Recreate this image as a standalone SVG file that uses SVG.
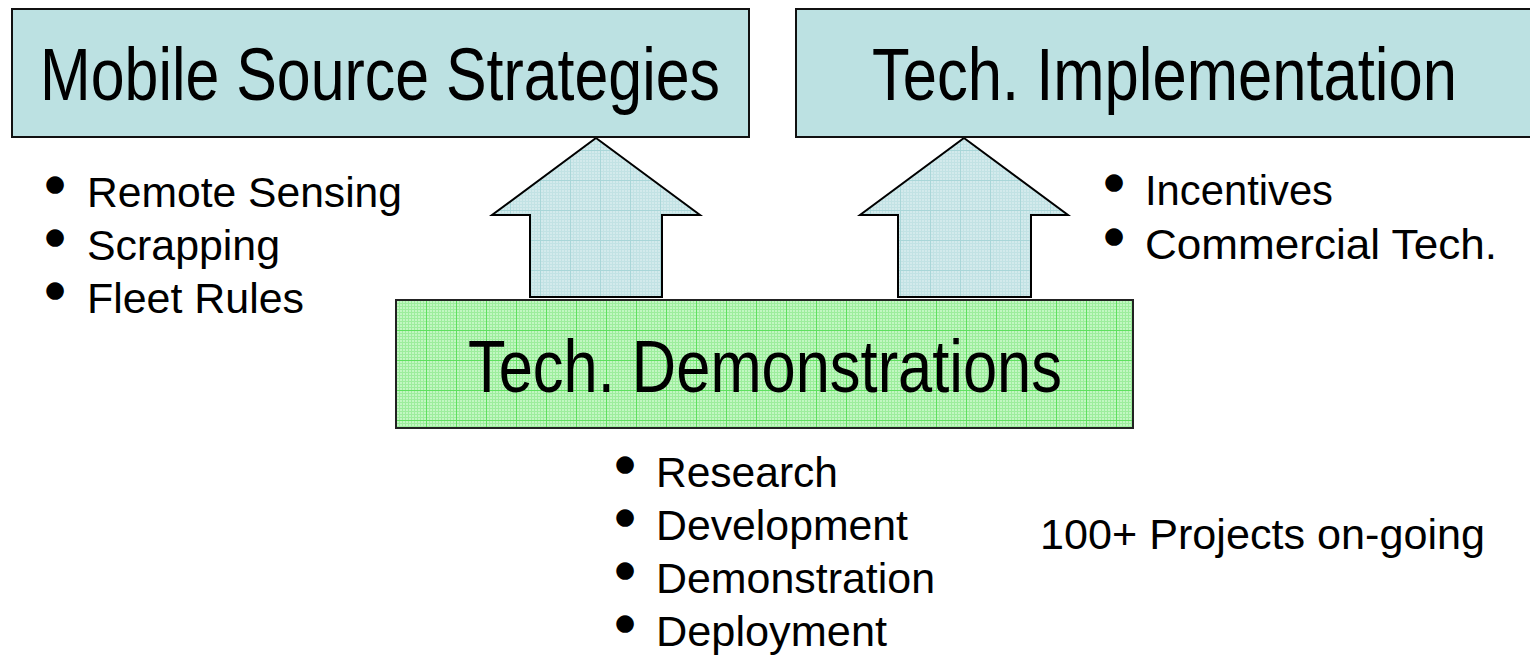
<svg xmlns="http://www.w3.org/2000/svg" width="1530" height="658" viewBox="0 0 1530 658">
<style>
.box{fill:#bce1e2;stroke:#111;stroke-width:2}
.demo{fill:url(#greenGrid);stroke:#222;stroke-width:2}
.arrow{fill:url(#blueGrid);stroke:#000;stroke-width:2;stroke-linejoin:miter}
.title{font-family:"Liberation Sans",Arial,sans-serif;font-size:74px;fill:#000}
.item{font-family:"Liberation Sans",Arial,sans-serif;font-size:42px;fill:#000}
.bul{font-family:"DejaVu Sans",sans-serif;font-size:23px;fill:#000;text-anchor:middle}
</style>
<defs>
<pattern id="greenFine" width="3" height="3" patternUnits="userSpaceOnUse">
<rect width="3" height="3" fill="#c2f7c2"/>
<path d="M0 0.5H3M0.5 0V3" stroke="#9ded9d" stroke-width="1"/>
</pattern>
<pattern id="greenGrid" width="30" height="30" patternUnits="userSpaceOnUse" x="396" y="300">
<rect width="30" height="30" fill="url(#greenFine)"/>
<path d="M0 0.5H30M0.5 0V30" stroke="#5fe05f" stroke-width="1"/>
</pattern>
<pattern id="blueFine" width="3" height="3" patternUnits="userSpaceOnUse">
<rect width="3" height="3" fill="#d3eaec"/>
<path d="M0 0.5H3M0.5 0V3" stroke="#c2e2e4" stroke-width="1"/>
</pattern>
<pattern id="blueGrid" width="30" height="30" patternUnits="userSpaceOnUse" x="0" y="0">
<rect width="30" height="30" fill="url(#blueFine)"/>
<path d="M0 0.5H30M0.5 0V30" stroke="#a9d6d8" stroke-width="1"/>
</pattern>
</defs>

<g id="connectors">
<path class="arrow" d="M596 138 L700 215 L662 215 L662 297 L530 297 L530 215 L492 215 Z"/>
<path class="arrow" d="M964 138 L1068 215 L1031 215 L1031 297 L898 297 L898 215 L860 215 Z"/>
</g>

<g id="mobile-source-strategies">
<rect class="box" x="12" y="9" width="737" height="128"/>
<text class="title" x="40" y="100" textLength="680" lengthAdjust="spacingAndGlyphs">Mobile Source Strategies</text>
</g>

<g id="tech-implementation">
<rect class="box" x="796" y="9" width="735" height="128"/>
<text class="title" x="872" y="100" textLength="585" lengthAdjust="spacingAndGlyphs">Tech. Implementation</text>
</g>

<g id="tech-demonstrations">
<rect class="demo" x="396" y="300" width="737" height="128"/>
<text class="title" x="468" y="392" textLength="594" lengthAdjust="spacingAndGlyphs">Tech. Demonstrations</text>
</g>

<g id="strategies-list">
<text class="bul" x="55" y="191">●</text><text class="item" x="87" y="207" textLength="315" lengthAdjust="spacingAndGlyphs">Remote Sensing</text>
<text class="bul" x="55" y="244">●</text><text class="item" x="87" y="260" textLength="193" lengthAdjust="spacingAndGlyphs">Scrapping</text>
<text class="bul" x="55" y="297">●</text><text class="item" x="87" y="313" textLength="217" lengthAdjust="spacingAndGlyphs">Fleet Rules</text>
</g>

<g id="implementation-list">
<text class="bul" x="1114" y="189">●</text><text class="item" x="1145" y="205" textLength="188" lengthAdjust="spacingAndGlyphs">Incentives</text>
<text class="bul" x="1114" y="243">●</text><text class="item" x="1145" y="259" textLength="352" lengthAdjust="spacingAndGlyphs">Commercial Tech.</text>
</g>

<g id="demonstrations-list">
<text class="bul" x="625" y="471">●</text><text class="item" x="656" y="487" textLength="182" lengthAdjust="spacingAndGlyphs">Research</text>
<text class="bul" x="625" y="524">●</text><text class="item" x="656" y="540" textLength="252" lengthAdjust="spacingAndGlyphs">Development</text>
<text class="bul" x="625" y="577">●</text><text class="item" x="656" y="593" textLength="279" lengthAdjust="spacingAndGlyphs">Demonstration</text>
<text class="bul" x="625" y="630">●</text><text class="item" x="656" y="646" textLength="231" lengthAdjust="spacingAndGlyphs">Deployment</text>
</g>

<g id="projects-note">
<text class="item" x="1040" y="549" textLength="445" lengthAdjust="spacingAndGlyphs">100+ Projects on-going</text>
</g>
</svg>
